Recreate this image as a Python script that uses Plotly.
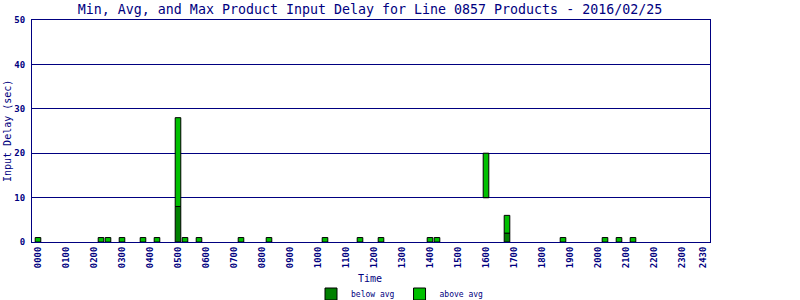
import plotly.graph_objects as go

# Data: 15-minute bins with min / avg / max input delay (sec)
times = ["00:00", "02:15", "02:30", "03:00", "03:45", "04:15", "05:00", "05:15", "05:45",
         "07:15", "08:15", "10:15", "11:30", "12:15", "14:00", "14:15", "16:00", "16:45",
         "18:45", "20:15", "20:45", "21:15"]
min_delay = [0, 0, 0, 0, 0, 0, 0, 0, 0, 0, 0, 0, 0, 0, 0, 0, 10, 0, 0, 0, 0, 0]
avg_delay = [0, 0, 0, 0, 0, 0, 8, 0, 0, 0, 0, 0, 0, 0, 0, 0, 10, 2, 0, 0, 0, 0]
max_delay = [1, 1, 1, 1, 1, 1, 28, 1, 1, 1, 1, 1, 1, 1, 1, 1, 20, 6, 1, 1, 1, 1]

tick_labels = ["%02d00" % h for h in range(24)] + ["2430"]
tick_vals = list(range(24)) + [23.75]

x_hours = [int(t[:2]) + int(t[3:]) / 60.0 for t in times]

NAVY = "#000080"
DARK = "#008000"
BRIGHT = "#00C000"
FONT = "DejaVu Sans Mono"

fig = go.Figure()
fig.add_trace(go.Bar(
    x=x_hours, base=min_delay,
    y=[a - m for a, m in zip(avg_delay, min_delay)],
    width=0.2, name="below avg",
    marker=dict(color=DARK, line=dict(color="black", width=1)),
))
fig.add_trace(go.Bar(
    x=x_hours, base=avg_delay,
    y=[mx - a for mx, a in zip(max_delay, avg_delay)],
    width=0.2, name="above avg",
    marker=dict(color=BRIGHT, line=dict(color="black", width=1)),
))

fig.update_layout(
    width=800, height=300,
    margin=dict(l=32, r=90, t=20, b=58),
    paper_bgcolor="white", plot_bgcolor="white",
    barmode="overlay",
    font=dict(family=FONT, color=NAVY),
    title=dict(text="Min, Avg, and Max Product Input Delay for Line 0857 Products - 2016/02/25",
               font=dict(family=FONT, size=13.3, color=NAVY),
               x=(370) / 800, xanchor="center", y=1 - 9 / 300, yanchor="middle"),
    xaxis=dict(range=[-0.214, 24.0], tickvals=tick_vals, ticktext=tick_labels,
               tickangle=-90, tickfont=dict(family=FONT, size=9, color=NAVY, weight="bold"),
               showgrid=False, showline=True, linecolor=NAVY, linewidth=1, mirror=True,
               ticks="", zeroline=False),
    yaxis=dict(range=[0, 50], tickvals=[0, 10, 20, 30, 40, 50],
               tickfont=dict(family=FONT, size=9, color=NAVY, weight="bold"),
               showgrid=True, gridcolor=NAVY, gridwidth=1,
               showline=True, linecolor=NAVY, linewidth=1, mirror=True,
               ticks="", zeroline=False, ticklabelstandoff=4),
    showlegend=True,
    legend=dict(orientation="h", x=0.5, xanchor="center", xref="container",
                y=6 / 300, yanchor="middle", yref="container",
                font=dict(family=FONT, size=8, color=NAVY), itemwidth=30,
                traceorder="normal", bgcolor="rgba(0,0,0,0)"),
    annotations=[
        dict(text="Input Delay (sec)", xref="paper", yref="paper", x=-32 / 678 + 7 / 678,
             y=0.5, xanchor="center", yanchor="middle", textangle=-90, showarrow=False,
             font=dict(family=FONT, size=10, color=NAVY)),
        dict(text="Time", xref="paper", yref="paper", x=(370 - 32) / 678,
             y=-(278 - 242) / 222, xanchor="center", yanchor="middle", showarrow=False,
             font=dict(family=FONT, size=10, color=NAVY)),
    ],
)

fig.write_html("out.html")
